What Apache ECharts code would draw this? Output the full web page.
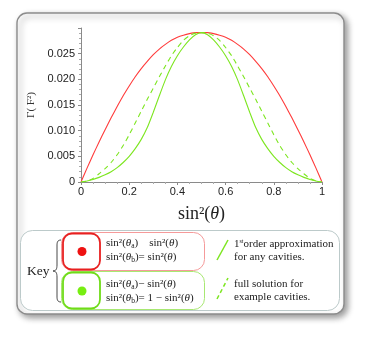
<!DOCTYPE html>
<html>
<head>
<meta charset="utf-8">
<script src="https://cdn.jsdelivr.net/npm/echarts@6/dist/echarts.min.js"></script>
<style>
html, body { margin: 0; padding: 0; background: #fff; }
#chart { width: 371px; height: 342px; }
</style>
</head>
<body>
<div id="chart"></div>
<script>
// values
var xs = [0, 0.025, 0.05, 0.075, 0.1, 0.125, 0.15, 0.175, 0.2, 0.225, 0.25,
  0.275, 0.3, 0.325, 0.35, 0.375, 0.4, 0.425, 0.45, 0.475, 0.5,
  0.525, 0.55, 0.575, 0.6, 0.625, 0.65, 0.675, 0.7, 0.725, 0.75,
  0.775, 0.8, 0.825, 0.85, 0.875, 0.9, 0.925, 0.95, 0.975, 1]
var redCurve = [0, 0.0027, 0.0053, 0.0078, 0.0102, 0.0125, 0.0147, 0.0168, 0.0187, 0.0205, 0.0221,
  0.0235, 0.0248, 0.0259, 0.0268, 0.0276, 0.0282, 0.0286, 0.0289, 0.0291, 0.0291,
  0.0291, 0.0289, 0.0286, 0.0282, 0.0276, 0.0268, 0.0259, 0.0248, 0.0235, 0.0221,
  0.0205, 0.0187, 0.0168, 0.0147, 0.0125, 0.0102, 0.0078, 0.0053, 0.0027, 0]
var greenSolid = [0, 0.0002, 0.0005, 0.0009, 0.0014, 0.0020, 0.0028, 0.0038, 0.0050, 0.0065, 0.0083,
  0.0106, 0.0136, 0.0168, 0.0199, 0.0225, 0.0246, 0.0263, 0.0277, 0.0287, 0.0291,
  0.0287, 0.0277, 0.0263, 0.0246, 0.0225, 0.0199, 0.0168, 0.0136, 0.0106, 0.0083,
  0.0065, 0.0050, 0.0038, 0.0028, 0.0020, 0.0014, 0.0009, 0.0005, 0.0002, 0]
var greenDash = [0, 0.0002, 0.0007, 0.0016, 0.0026, 0.0038, 0.0053, 0.0071, 0.0092, 0.0115, 0.0138,
  0.0161, 0.0183, 0.0205, 0.0226, 0.0246, 0.0262, 0.0276, 0.0285, 0.0290, 0.0291,
  0.0290, 0.0285, 0.0276, 0.0262, 0.0246, 0.0226, 0.0205, 0.0183, 0.0161, 0.0138,
  0.0115, 0.0092, 0.0071, 0.0053, 0.0038, 0.0026, 0.0016, 0.0007, 0.0002, 0]
var xTicks = [0, 0.2, 0.4, 0.6, 0.8, 1]
var yTicks = [0, 0.005, 0.01, 0.015, 0.02, 0.025]

function pairs(ys) {
  return xs.map(function (x, i) { return [x, ys[i]] })
}

var serif = '"Liberation Serif", "DejaVu Serif", serif'
var RED = '#ff3b3b'
var GREEN = '#7de620'

var mathRich = {
  i: { fontFamily: serif, fontStyle: 'italic', fontSize: 11, fill: '#222' },
  s: { fontFamily: serif, fontSize: 7.5, fill: '#222', padding: [5, 0, 0, 0] }
}

function mathText(x, y, str) {
  return {
    type: 'text', x: x, y: y, z: 10,
    style: {
      text: str, fontFamily: serif, fontSize: 11, fill: '#222',
      rich: mathRich
    }
  }
}

function brace(x, y1, y2, color) {
  var mid = (y1 + y2) / 2
  var st = { stroke: color, lineWidth: 0.9, fill: 'none' }
  return [
    { type: 'bezierCurve', z: 10, shape: { x1: x + 4, y1: y1, cpx1: x, cpy1: y1, cpx2: x, cpy2: y1 + 3, x2: x, y2: y1 + 6 }, style: st },
    { type: 'line', z: 10, shape: { x1: x, y1: y1 + 6, x2: x, y2: mid - 6 }, style: st },
    { type: 'bezierCurve', z: 10, shape: { x1: x, y1: mid - 6, cpx1: x, cpy1: mid - 2, cpx2: x - 1, cpy2: mid, x2: x - 4, y2: mid }, style: st },
    { type: 'bezierCurve', z: 10, shape: { x1: x - 4, y1: mid, cpx1: x - 1, cpy1: mid, cpx2: x, cpy2: mid + 2, x2: x, y2: mid + 6 }, style: st },
    { type: 'line', z: 10, shape: { x1: x, y1: mid + 6, x2: x, y2: y2 - 6 }, style: st },
    { type: 'bezierCurve', z: 10, shape: { x1: x, y1: y2 - 6, cpx1: x, cpy1: y2 - 3, cpx2: x, cpy2: y2, x2: x + 4, y2: y2 }, style: st }
  ]
}

var elements = [
  // outer card with drop shadow
  {
    type: 'rect', z: -10, shape: { x: 17, y: 13, width: 327, height: 301, r: 10 },
    style: {
      fill: '#fff', stroke: '#8c8c8c', lineWidth: 1.4,
      shadowBlur: 6, shadowOffsetX: 3, shadowOffsetY: 3, shadowColor: 'rgba(0,0,0,0.4)'
    }
  },
  // key box
  {
    type: 'rect', z: 5, shape: { x: 20.5, y: 230.5, width: 319, height: 80, r: 12 },
    style: { fill: '#fff', stroke: '#bccaca', lineWidth: 1 }
  },
  {
    type: 'text', x: 27, y: 264, z: 10,
    style: { text: 'Key', fontFamily: serif, fontSize: 13.5, fill: '#222' }
  },
  // red entry
  {
    type: 'rect', z: 10, shape: { x: 61.5, y: 232.5, width: 143, height: 38, r: 11 },
    style: { fill: '#fff', stroke: '#f59a9a', lineWidth: 1 }
  },
  {
    type: 'rect', z: 11, shape: { x: 63, y: 233.5, width: 37, height: 36, r: 9 },
    style: { fill: '#fff', stroke: '#e82020', lineWidth: 1.8 }
  },
  {
    type: 'circle', z: 12, shape: { cx: 82, cy: 251.5, r: 4.5 },
    style: { fill: '#ee1111' }
  },
  mathText(106, 237, 'sin²({i|θ}{s|a})    sin²({i|θ})'),
  mathText(106, 251, 'sin²({i|θ}{s|b})= sin²({i|θ})'),
  // green entry
  {
    type: 'rect', z: 10, shape: { x: 61.5, y: 271.5, width: 143, height: 38, r: 11 },
    style: { fill: '#fff', stroke: '#a8e872', lineWidth: 1 }
  },
  {
    type: 'rect', z: 11, shape: { x: 63, y: 272.5, width: 37, height: 36, r: 9 },
    style: { fill: '#fff', stroke: '#6fdc18', lineWidth: 1.8 }
  },
  {
    type: 'circle', z: 12, shape: { cx: 82, cy: 291, r: 4.5 },
    style: { fill: '#77ee11' }
  },
  mathText(106, 278, 'sin²({i|θ}{s|a})− sin²({i|θ})'),
  mathText(106, 292, 'sin²({i|θ}{s|b})= 1 − sin²({i|θ})'),
  // line style samples
  {
    type: 'line', z: 10, shape: { x1: 217, y1: 260, x2: 228, y2: 240 },
    style: { stroke: GREEN, lineWidth: 1.5 }
  },
  {
    type: 'line', z: 10, shape: { x1: 217, y1: 299, x2: 228, y2: 278 },
    style: { stroke: GREEN, lineWidth: 1.5, lineDash: [4, 3] }
  },
  {
    type: 'text', x: 234, y: 238, z: 10,
    style: {
      text: '1{sup|st}order approximation\nfor any cavities.',
      fontFamily: serif, fontSize: 11, fill: '#222', lineHeight: 13,
      rich: { sup: { fontFamily: serif, fontSize: 6, fill: '#222', verticalAlign: 'top', padding: [0, 0, 5, 0] } }
    }
  },
  {
    type: 'text', x: 234, y: 278, z: 10,
    style: {
      text: 'full solution for\nexample cavities.',
      fontFamily: serif, fontSize: 11, fill: '#222', lineHeight: 13
    }
  }
].concat(brace(57, 240, 302, '#333'))

var chart = echarts.init(document.getElementById('chart'), null, { renderer: 'canvas' })
chart.setOption({
  animation: false,
  backgroundColor: '#fff',
  grid: { left: 81, right: 49, top: 28, bottom: 160 },
  xAxis: {
    type: 'value', min: 0, max: 1, interval: 0.2,
    name: 'sin²({i|θ})',
    nameLocation: 'middle', nameGap: 23,
    nameTextStyle: {
      fontFamily: serif, fontSize: 18, color: '#222',
      rich: { i: { fontFamily: serif, fontStyle: 'italic', fontSize: 18, color: '#222' } }
    },
    axisLine: { lineStyle: { color: '#8a8a8a', width: 1 } },
    axisTick: { length: 3, lineStyle: { color: '#8a8a8a' } },
    minorTick: { show: true, splitNumber: 4, length: 2, lineStyle: { color: '#aaa' } },
    splitLine: { show: false },
    axisLabel: {
      margin: 4, fontSize: 11, color: '#222', fontFamily: '"Liberation Sans", Arial, sans-serif',
      formatter: function (v) { return xTicks.indexOf(v) >= 0 ? String(v) : '' }
    }
  },
  yAxis: {
    type: 'value', min: 0, max: 0.03, interval: 0.005,
    name: 'Γ( F²)',
    nameLocation: 'middle', nameGap: 39, nameRotate: 90,
    nameTextStyle: { fontFamily: serif, fontSize: 11, color: '#333' },
    axisLine: { show: true, lineStyle: { color: '#8a8a8a', width: 1 } },
    axisTick: { show: true, length: 3, lineStyle: { color: '#8a8a8a' } },
    minorTick: { show: true, splitNumber: 5, length: 2, lineStyle: { color: '#aaa' } },
    splitLine: { show: false },
    axisLabel: {
      margin: 6, fontSize: 11, color: '#222', fontFamily: '"Liberation Sans", Arial, sans-serif',
      formatter: function (v) {
        if (yTicks.indexOf(v) < 0) return ''
        return v === 0 ? '0' : v.toFixed(3)
      }
    }
  },
  series: [
    {
      type: 'line', data: pairs(redCurve), smooth: 0.2, symbol: 'none',
      lineStyle: { color: RED, width: 1.1 }
    },
    {
      type: 'line', data: pairs(greenDash), smooth: 0.2, symbol: 'none',
      lineStyle: { color: GREEN, width: 1.1, type: [5, 4] }
    },
    {
      type: 'line', data: pairs(greenSolid), smooth: 0.2, symbol: 'none',
      lineStyle: { color: GREEN, width: 1.1 }
    }
  ],
  graphic: { elements: elements }
})
</script>
</body>
</html>
